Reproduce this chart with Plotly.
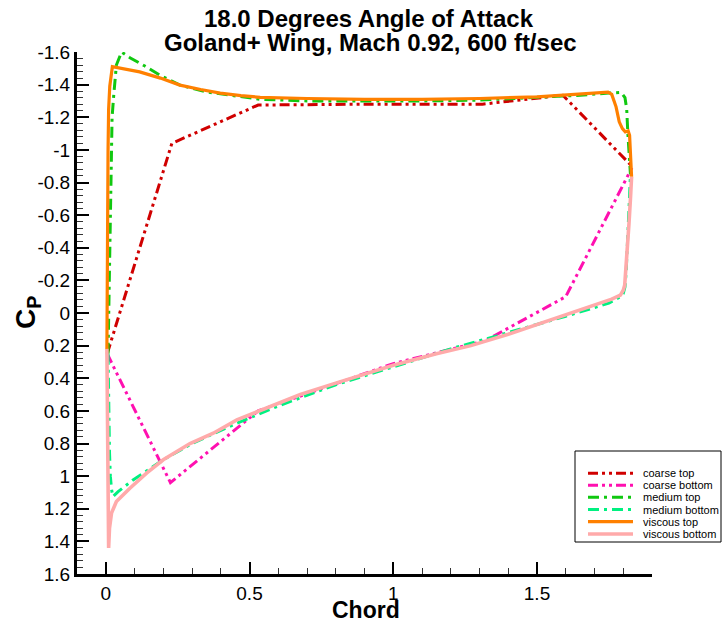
import numpy as np
import plotly.graph_objects as go

# ---- pressure coefficient distributions (x = chord position, cp = Cp) ----
coarse_top_x = [0.005, 0.23, 0.53, 0.90, 1.31, 1.59, 1.83]
coarse_top_cp = [0.25, -1.04, -1.275, -1.28, -1.28, -1.335, -0.90]

coarse_bot_x = [0.005, 0.225, 0.53, 1.00, 1.32, 1.60, 1.83]
coarse_bot_cp = [0.25, 1.04, 0.60, 0.31, 0.17, -0.10, -0.89]

medium_top_x = [0.008, 0.012, 0.016, 0.020, 0.022, 0.028, 0.037, 0.055, 0.084,
                0.136, 0.188, 0.258, 0.35, 0.43, 0.537, 0.70, 0.90, 1.10, 1.30,
                1.50, 1.65, 1.75, 1.793, 1.806, 1.812, 1.816, 1.820, 1.825]
medium_top_cp = [0.25, -0.20, -0.60, -0.90, -1.20, -1.34, -1.52, -1.60, -1.565,
                 -1.514, -1.458, -1.397, -1.355, -1.336, -1.31, -1.30, -1.30, -1.30, -1.305,
                 -1.32, -1.335, -1.348, -1.352, -1.32, -1.25, -1.10, -0.96, -0.85]

medium_bot_x = [0.008, 0.010, 0.013, 0.016, 0.020, 0.025, 0.043, 0.095, 0.15, 0.20,
                0.30, 0.45, 0.60, 0.80, 1.00, 1.20, 1.40, 1.60, 1.75, 1.79, 1.800,
                1.806, 1.810, 1.814, 1.818, 1.822, 1.825]
medium_bot_cp = [0.25, 0.55, 0.85, 1.00, 1.08, 1.125, 1.095, 1.023, 0.96, 0.90,
                 0.80, 0.68, 0.57, 0.44, 0.33, 0.22, 0.12, 0.02, -0.06, -0.10, -0.12,
                 -0.16, -0.25, -0.386, -0.55, -0.72, -0.85]

viscous_top_x = [0.004, 0.005, 0.008, 0.010, 0.014, 0.023, 0.060, 0.118, 0.19, 0.258,
                 0.33, 0.398, 0.47, 0.537, 0.70, 0.90, 1.10, 1.30, 1.50, 1.65, 1.747,
                 1.760, 1.768, 1.775, 1.786, 1.797, 1.807, 1.817, 1.822, 1.825, 1.829]
viscous_top_cp = [0.22, -0.50, -1.00, -1.25, -1.39, -1.51, -1.497, -1.478, -1.44, -1.397,
                  -1.37, -1.348, -1.333, -1.322, -1.315, -1.31, -1.31, -1.315, -1.325, -1.34, -1.354,
                  -1.34, -1.30, -1.264, -1.172, -1.13, -1.11, -1.117, -1.09, -1.00, -0.835]

viscous_bot_x = [0.004, 0.006, 0.008, 0.010, 0.013, 0.020, 0.037, 0.084, 0.142, 0.20,
                 0.293, 0.374, 0.456, 0.55, 0.677, 0.80, 1.00, 1.15, 1.27, 1.40, 1.50,
                 1.60, 1.70, 1.76, 1.79, 1.800, 1.805, 1.810, 1.815, 1.820, 1.825, 1.829]
viscous_bot_cp = [0.22, 0.60, 1.00, 1.44, 1.32, 1.227, 1.156, 1.074, 0.982, 0.90,
                  0.80, 0.737, 0.655, 0.59, 0.50, 0.43, 0.32, 0.25, 0.20, 0.13, 0.07,
                  0.01, -0.05, -0.085, -0.11, -0.14, -0.17, -0.284, -0.40, -0.55, -0.70, -0.835]

series_names = ["coarse top", "coarse bottom", "medium top", "medium bottom",
                "viscous top", "viscous bottom"]

# ---- tick labels ----
x_tick_vals = [0, 0.5, 1, 1.5]
x_tick_text = ["0", "0.5", "1", "1.5"]
y_tick_vals = [-1.6, -1.4, -1.2, -1.0, -0.8, -0.6, -0.4, -0.2, 0.0,
               0.2, 0.4, 0.6, 0.8, 1.0, 1.2, 1.4, 1.6]
y_tick_text = ["-1.6", "-1.4", "-1.2", "-1", "-0.8", "-0.6", "-0.4", "-0.2", "0",
               "0.2", "0.4", "0.6", "0.8", "1", "1.2", "1.4", "1.6"]

title_lines = ["18.0 Degrees Angle of Attack", "Goland+ Wing, Mach 0.92, 600 ft/sec"]

# ---- styles ----
FONT = "Liberation Sans, Arial, Helvetica, sans-serif"
DASH_DDOT = "10px,4px,3px,4px,3px,4px"
DASH_DOT = "11px,5px,3px,5px"
styles = [
    dict(color="#d00000", width=3, dash=DASH_DDOT),
    dict(color="#ff10b0", width=3, dash=DASH_DDOT),
    dict(color="#10c810", width=3, dash=DASH_DOT),
    dict(color="#00f080", width=3, dash=DASH_DOT),
    dict(color="#ff8000", width=3.2, dash="solid"),
    dict(color="#ffaaaa", width=3.6, dash="solid"),
]
data = [
    (coarse_top_x, coarse_top_cp),
    (coarse_bot_x, coarse_bot_cp),
    (medium_top_x, medium_top_cp),
    (medium_bot_x, medium_bot_cp),
    (viscous_top_x, viscous_top_cp),
    (viscous_bot_x, viscous_bot_cp),
]

W_FIG, H_FIG = 722, 626
M_L, M_R, M_T, M_B = 77, 70, 52, 52
PW = W_FIG - M_L - M_R
PH = H_FIG - M_T - M_B


def px_x(px):
    return (px - M_L) / PW


def px_y(py):
    return (H_FIG - M_B - py) / PH


fig = go.Figure()
for (xs, ys), name, st in zip(data, series_names, styles):
    fig.add_trace(go.Scatter(x=xs, y=ys, mode="lines", name=name,
                             line=st, showlegend=False))

# ---- boxed legend in the lower right ----
shapes = [dict(type="rect", xref="paper", yref="paper",
               x0=px_x(575), x1=px_x(721), y0=px_y(542), y1=px_y(451),
               line=dict(color="black", width=1), fillcolor="white", layer="above")]
annotations = []
row_y = [473.3, 485.3, 497.3, 509.5, 521.7, 534.0]
for name, st, ry in zip(series_names, styles, row_y):
    shapes.append(dict(type="line", xref="paper", yref="paper",
                       x0=px_x(588), x1=px_x(633), y0=px_y(ry), y1=px_y(ry),
                       line=dict(color=st["color"], width=st["width"], dash=st["dash"]),
                       layer="above"))
    annotations.append(dict(xref="paper", yref="paper", x=px_x(641), y=px_y(ry),
                            xanchor="left", yanchor="middle", showarrow=False,
                            text=name, font=dict(family=FONT, size=11, color="black")))

# second title line and the axis titles
annotations.append(dict(xref="paper", yref="paper", x=px_x(370), y=px_y(42.5),
                        xanchor="center", yanchor="middle", showarrow=False,
                        text=title_lines[1],
                        font=dict(family=FONT, size=24, weight="bold", color="black")))
annotations.append(dict(xref="paper", yref="paper", x=px_x(366), y=px_y(610),
                        xanchor="center", yanchor="middle", showarrow=False,
                        text="Chord",
                        font=dict(family=FONT, size=23, weight="bold", color="black")))
annotations.append(dict(xref="paper", yref="paper", x=px_x(27), y=px_y(313),
                        xanchor="center", yanchor="middle", showarrow=False,
                        textangle=-90, text="C<sub>P</sub>",
                        font=dict(family=FONT, size=28, weight="bold", color="black")))

fig.update_layout(
    width=W_FIG, height=H_FIG,
    margin=dict(l=M_L, r=M_R, t=M_T, b=M_B, autoexpand=False),
    paper_bgcolor="white", plot_bgcolor="white",
    font=dict(family=FONT, color="black"),
    title=dict(text=title_lines[0],
               x=px_x(368.5), xref="paper", xanchor="center",
               y=1 - 18.5 / H_FIG, yref="container", yanchor="middle",
               font=dict(family=FONT, size=24, weight="bold", color="black")),
    shapes=shapes,
    annotations=annotations,
    showlegend=False,
)

fig.update_xaxes(
    range=[-0.1, 1.9], showgrid=False, zeroline=False,
    showline=True, linecolor="black", linewidth=3, mirror=False,
    tickmode="array", tickvals=x_tick_vals, ticktext=x_tick_text,
    ticks="inside", ticklen=12, tickwidth=2, tickcolor="black",
    tickfont=dict(family=FONT, size=19, color="black"),
    minor=dict(tickmode="array", tickvals=list(np.round(np.arange(-0.1, 1.901, 0.1), 3)),
               ticks="inside", ticklen=6, tickwidth=1, tickcolor="#333", showgrid=False),
)
fig.update_yaxes(
    range=[1.6, -1.6], showgrid=False, zeroline=False,
    showline=True, linecolor="black", linewidth=3, mirror=False,
    tickmode="array", tickvals=y_tick_vals, ticktext=y_tick_text,
    ticks="inside", ticklen=12, tickwidth=2, tickcolor="black",
    tickfont=dict(family=FONT, size=19, color="black"),
    minor=dict(tickmode="array", tickvals=list(np.round(np.arange(-1.6, 1.601, 0.04), 3)),
               ticks="inside", ticklen=6, tickwidth=1, tickcolor="#333", showgrid=False),
)

fig.write_html("out.html")
